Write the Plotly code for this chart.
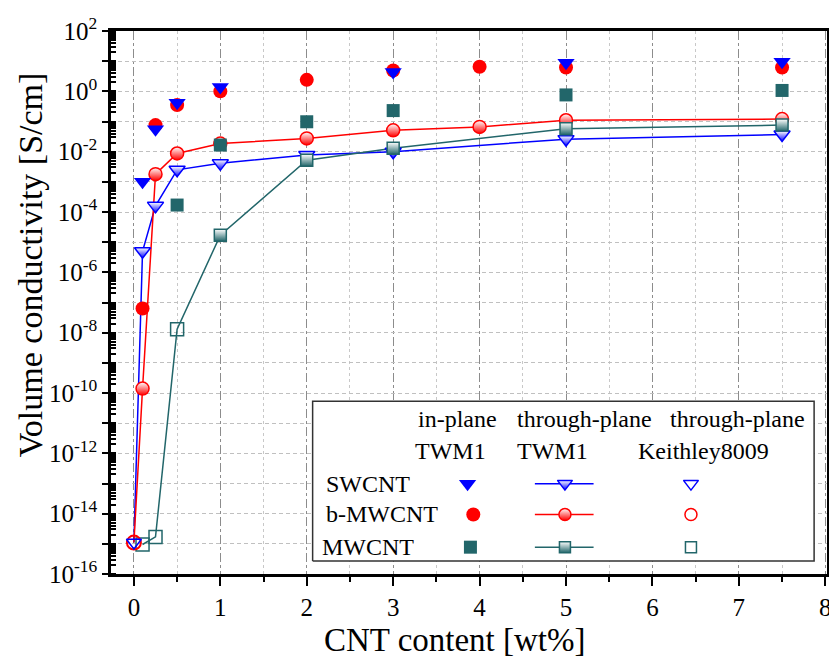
import plotly.graph_objects as go

# ---------------- data ----------------
# in-plane (TWM1)
sw_in_x = [0.1, 0.25, 0.5, 1, 3, 5, 7.5]
sw_in_y = [1.0e-3, 0.055, 0.42, 1.4, 4.4, 8.9, 9.6]
bmw_in_x = [0.1, 0.25, 0.5, 1, 2, 3, 4, 5, 7.5]
bmw_in_y = [6.3e-8, 0.076, 0.35, 1.0, 2.4, 4.9, 6.5, 6.2, 6.2]
mw_in_x = [0.5, 1, 2, 3, 5, 7.5]
mw_in_y = [1.7e-4, 0.0166, 0.098, 0.23, 0.76, 1.07]

# through-plane (TWM1)
sw_tp_x = [0.1, 0.25, 0.5, 1, 2, 3, 5, 7.5]
sw_tp_y = [5.0e-6, 1.6e-4, 2.5e-3, 4.1e-3, 7.8e-3, 0.010, 0.026, 0.037]
bmw_tp_x = [0.1, 0.25, 0.5, 1, 2, 3, 4, 5, 7.5]
bmw_tp_y = [1.4e-10, 1.8e-3, 8.7e-3, 0.0185, 0.0275, 0.051, 0.066, 0.11, 0.12]
mw_tp_x = [1, 2, 3, 5, 7.5]
mw_tp_y = [1.7e-5, 5.2e-3, 0.013, 0.058, 0.076]

# through-plane (Keithley 8009)
sw_k_x = [0]
sw_k_y = [1.1e-15]
bmw_k_x = [0]
bmw_k_y = [1.1e-15]
mw_k_x = [0.1, 0.25, 0.5]
mw_k_y = [9.5e-16, 1.7e-15, 1.3e-8]

y_tick_exp = list(range(-16, 3))
x_ticks = [0, 1, 2, 3, 4, 5, 6, 7, 8]

# ---------------- styles ----------------
BLUE = "#0000ff"
RED = "#ff0000"
TEAL = "#22666a"
FONT = "Liberation Serif"

fig = go.Figure()


def line_trace(xk, yk, xt, yt, color):
    pts = sorted(zip(list(xk) + list(xt), list(yk) + list(yt)))
    fig.add_trace(go.Scatter(x=[p[0] for p in pts], y=[p[1] for p in pts],
                             mode="lines", line=dict(color=color, width=1.5),
                             hoverinfo="skip"))


line_trace(sw_k_x, sw_k_y, sw_tp_x, sw_tp_y, BLUE)
line_trace(bmw_k_x, bmw_k_y, bmw_tp_x, bmw_tp_y, RED)
line_trace(mw_k_x, mw_k_y, mw_tp_x, mw_tp_y, TEAL)


def half_marker(x, y, symbol, color, size, xaxis="x", yaxis="y"):
    # vertical gradient: gradient colour at the bottom, marker colour (white) at the top
    return go.Scatter(x=x, y=y, mode="markers", xaxis=xaxis, yaxis=yaxis,
                      marker=dict(symbol=symbol, size=size, color="white",
                                  gradient=dict(type="vertical", color=color),
                                  line=dict(color=color, width=1.5)))


# through-plane TWM1 half-filled markers
fig.add_trace(half_marker(sw_tp_x, sw_tp_y, "triangle-down", BLUE, 14))
fig.add_trace(half_marker(bmw_tp_x, bmw_tp_y, "circle", RED, 13))
fig.add_trace(half_marker(mw_tp_x, mw_tp_y, "square", TEAL, 12))

# in-plane filled markers
fig.add_trace(go.Scatter(x=bmw_in_x, y=bmw_in_y, mode="markers",
                         marker=dict(symbol="circle", size=14, color=RED, line=dict(width=0))))
fig.add_trace(go.Scatter(x=sw_in_x, y=sw_in_y, mode="markers",
                         marker=dict(symbol="triangle-down", size=15, color=BLUE, line=dict(width=0))))
fig.add_trace(go.Scatter(x=mw_in_x, y=mw_in_y, mode="markers",
                         marker=dict(symbol="square", size=13, color=TEAL, line=dict(width=0))))

# Keithley open markers
fig.add_trace(go.Scatter(x=mw_k_x, y=mw_k_y, mode="markers",
                         marker=dict(symbol="square-open", size=13, color=TEAL, line=dict(width=1.5))))
fig.add_trace(go.Scatter(x=bmw_k_x, y=bmw_k_y, mode="markers",
                         marker=dict(symbol="circle-open", size=14, color=RED, line=dict(width=2))))
fig.add_trace(go.Scatter(x=sw_k_x, y=sw_k_y, mode="markers",
                         marker=dict(symbol="triangle-down-open", size=13, color=BLUE, line=dict(width=1.5))))

# ---------------- legend table (overlay axis in plot-fraction units) ----------------
box_x = [0.2816, 0.982, 0.982, 0.2816, 0.2816]
box_y = [0.0238, 0.0238, 0.318, 0.318, 0.0238]
fig.add_trace(go.Scatter(x=box_x, y=box_y, xaxis="x2", yaxis="y2", mode="lines",
                         fill="toself", fillcolor="white", line=dict(color="#333333", width=1.5),
                         hoverinfo="skip"))

rows_y = [0.1664, 0.1097, 0.0494]
col1_x = [0.498, 0.506, 0.502]
col2_line = [0.592, 0.674]
col2_x = 0.634
col3_x = 0.810
colors = [BLUE, RED, TEAL]
filled_sym = ["triangle-down", "circle", "square"]
open_sym = ["triangle-down-open", "circle-open", "square-open"]
sizes = [15, 14, 13]

for i in range(3):
    fig.add_trace(go.Scatter(x=[col1_x[i]], y=[rows_y[i]], xaxis="x2", yaxis="y2", mode="markers",
                             marker=dict(symbol=filled_sym[i], size=sizes[i], color=colors[i],
                                         line=dict(width=0))))
    fig.add_trace(go.Scatter(x=col2_line, y=[rows_y[i], rows_y[i]], xaxis="x2", yaxis="y2",
                             mode="lines", line=dict(color=colors[i], width=1.5)))
    fig.add_trace(half_marker([col2_x], [rows_y[i]], filled_sym[i], colors[i], sizes[i] - 2,
                              xaxis="x2", yaxis="y2"))
    fig.add_trace(go.Scatter(x=[col3_x], y=[rows_y[i]], xaxis="x2", yaxis="y2", mode="markers",
                             marker=dict(symbol=open_sym[i], size=sizes[i] - 2, color=colors[i],
                                         line=dict(width=1.5))))

ann_font = dict(family=FONT, size=24, color="black")
legend_texts = [
    ("in-plane", 0.484, 0.285), ("through-plane", 0.662, 0.285), ("through-plane", 0.875, 0.285),
    ("TWM1", 0.474, 0.2267), ("TWM1", 0.616, 0.2267), ("Keithley8009", 0.828, 0.2267),
    ("SWCNT", 0.359, 0.1664), ("b-MWCNT", 0.3786, 0.1097), ("MWCNT", 0.359, 0.0494),
]
annotations = [dict(text=t, x=x, y=y, xref="paper", yref="paper", showarrow=False,
                    xanchor="center", yanchor="middle", font=ann_font) for t, x, y in legend_texts]

annotations.append(dict(text="Volume conductivity [S/cm]", x=-0.112, y=0.57, xref="paper", yref="paper",
                        showarrow=False, textangle=-90, xanchor="center", yanchor="middle",
                        font=dict(family=FONT, size=34, color="black")))
annotations.append(dict(text="CNT content [wt%]", x=0.481, y=-0.1207, xref="paper", yref="paper",
                        showarrow=False, xanchor="center", yanchor="middle",
                        font=dict(family=FONT, size=33, color="black")))

# page body has an 8px default margin: shrink the figure so it fits the window exactly
fig.update_layout(
    width=829, height=650,
    margin=dict(l=103, r=5, t=19, b=84),
    paper_bgcolor="white", plot_bgcolor="white",
    showlegend=False,
    font=dict(family=FONT, size=25, color="black"),
    annotations=annotations,
    xaxis=dict(
        range=[-0.265, 8.02], tickvals=x_ticks, ticktext=[str(v) for v in x_ticks],
        showline=True, linewidth=2.5, linecolor="black", mirror=True,
        ticks="outside", ticklen=9, tickwidth=2, tickcolor="black",
        showgrid=True, gridcolor="#8c8c8c", gridwidth=1, griddash="dashdot",
        minor=dict(dtick=0.5, tick0=0, ticks="outside", ticklen=5, tickwidth=2, tickcolor="black",
                   showgrid=True, gridcolor="#c8c8c8", gridwidth=1, griddash="3px,3px"),
        zeroline=False, tickfont=dict(family=FONT, size=25),
    ),
    yaxis=dict(
        type="log", range=[-16, 2],
        tickvals=[10 ** e for e in y_tick_exp],
        ticktext=[("10<sup>%d</sup>" % e) if e % 2 == 0 else "" for e in y_tick_exp],
        showline=True, linewidth=2.5, linecolor="black", mirror=True,
        ticks="outside", ticklen=6, tickwidth=2, tickcolor="black",
        showgrid=True, gridcolor="#c0c0c0", gridwidth=1, griddash="4px,3px",
        minor=dict(dtick="D1", ticks="inside", ticklen=5, tickwidth=1.5, tickcolor="black", showgrid=False),
        zeroline=False, tickfont=dict(family=FONT, size=25),
    ),
    xaxis2=dict(domain=[0, 1], range=[0, 1], overlaying="x", anchor="y2", visible=False),
    yaxis2=dict(domain=[0, 1], range=[0, 1], overlaying="y", anchor="x2", visible=False),
)

fig.write_html("out.html")
